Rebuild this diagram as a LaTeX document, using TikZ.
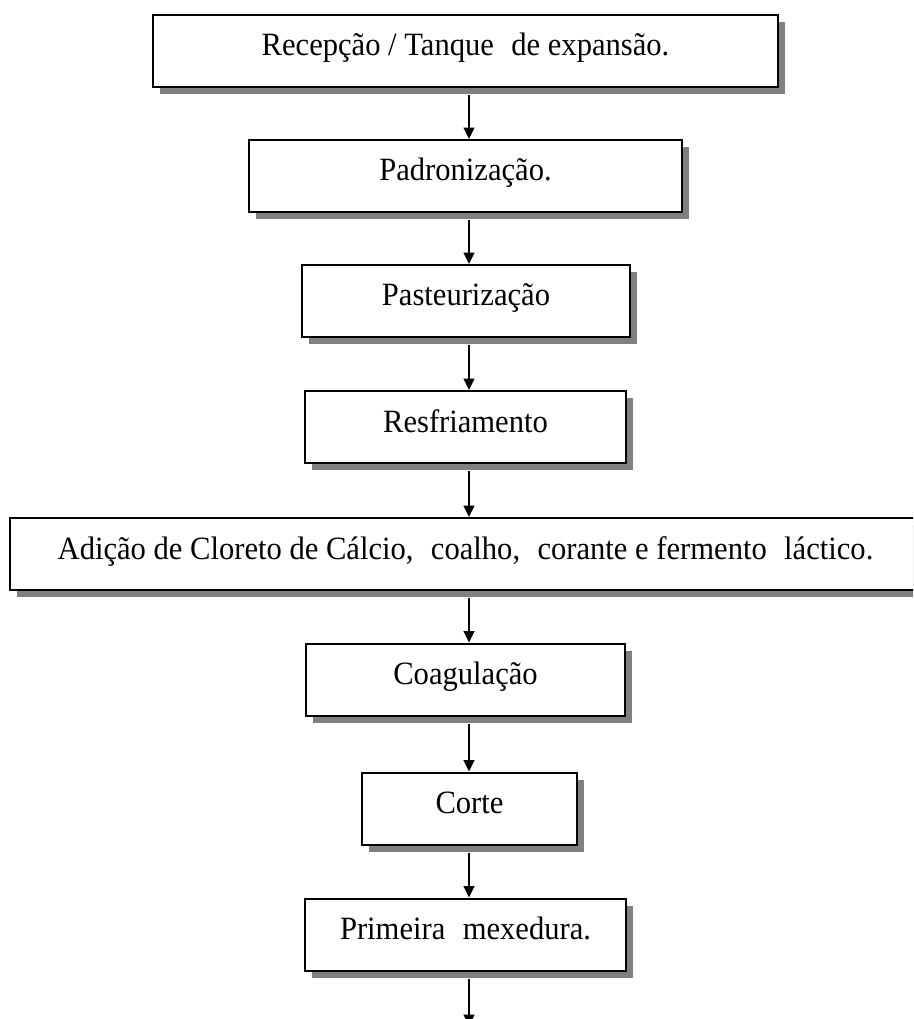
\documentclass[tikz,border=0pt]{standalone}
\usepackage{fontspec}
\setmainfont{Liberation Serif}[FakeStretch=0.94]
\usetikzlibrary{arrows.meta,shadows}
\definecolor{shadowgray}{RGB}{128,128,128}
\def\pxu{0.75pt}
\begin{document}
\begin{tikzpicture}[x=0.75pt,y=-0.75pt,
  stepbox/.style={draw=black, line width=1.5pt, fill=white, rectangle, inner sep=0pt,
    minimum height=72*\pxu, font=\fontsize{24.4}{29}\selectfont,
    text height=16.5pt, text depth=9pt,
    drop shadow={shadow xshift=5.25pt, shadow yshift=-5.25pt, fill=shadowgray, opacity=1}},
  flow/.style={line width=1.4pt, -{Triangle[length=8.5pt,width=8pt]}, shorten <=5.25pt}]
\clip (0,0) rectangle (913,1019);

% process steps, top to bottom
\node[stepbox, minimum width=625*\pxu] (b1) at (465.5,51)
  {Recepção / Tanque\hspace{0.3em} de expansão.};
\node[stepbox, minimum width=433*\pxu] (b2) at (465.5,176) {Padronização.};
\node[stepbox, minimum width=328*\pxu] (b3) at (466,301) {Pasteurização};
\node[stepbox, minimum width=321*\pxu] (b4) at (465.5,427) {Resfriamento};
\node[stepbox, minimum width=911*\pxu] (b5) at (465.5,554)
  {Adição de Cloreto de Cálcio,\hspace{0.3em} coalho,\hspace{0.3em} corante e fermento\hspace{0.3em} láctico.};
\node[stepbox, minimum width=319*\pxu] (b6) at (465.5,679.5) {Coagulação};
\node[stepbox, minimum width=215*\pxu] (b7) at (469.5,808.5) {Corte};
\node[stepbox, minimum width=321*\pxu] (b8) at (465.5,934.5) {Primeira\hspace{0.3em} mexedura.};

% vertical axis of the connectors and the open end below the last step
\coordinate (ax) at (469,0);
\coordinate (next) at (469,1026);

\draw[flow] (b1.south -| ax) -- (b2.north -| ax);
\draw[flow] (b2.south -| ax) -- (b3.north -| ax);
\draw[flow] (b3.south -| ax) -- (b4.north -| ax);
\draw[flow] (b4.south -| ax) -- (b5.north -| ax);
\draw[flow] (b5.south -| ax) -- (b6.north -| ax);
\draw[flow] (b6.south -| ax) -- (b7.north -| ax);
\draw[flow] (b7.south -| ax) -- (b8.north -| ax);
\draw[flow] (b8.south -| ax) -- (next);
\end{tikzpicture}
\end{document}
